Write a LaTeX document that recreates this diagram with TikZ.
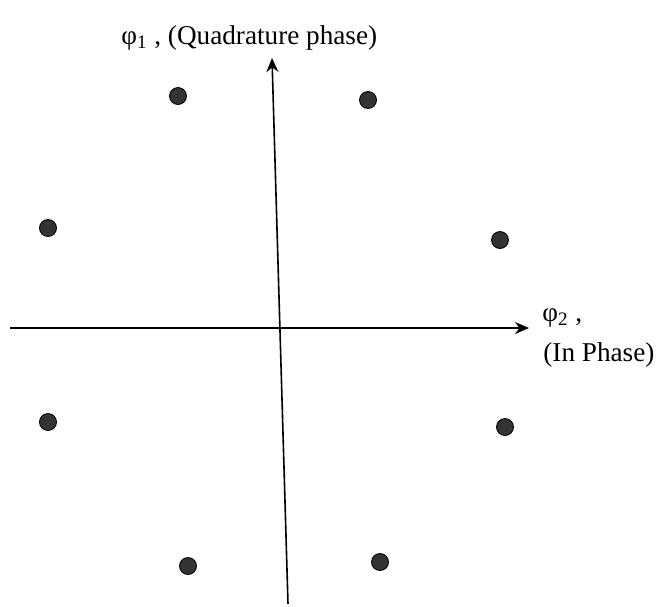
\documentclass[tikz,border=0pt]{standalone}
\usepackage{fontspec}
\setmainfont{Liberation Serif}
\usetikzlibrary{arrows.meta}

\tikzset{
  sym/.style={circle,fill=black!80,draw=black,inner sep=0pt,minimum size=8.5pt},
  lbl/.style={inner sep=0pt,font=\fontsize{13.6}{16}\selectfont}
}

\begin{document}
\begin{tikzpicture}[x=0.5pt,y=-0.5pt]
\useasboundingbox (0,0) rectangle (659,606);
% axes
\coordinate (ybot) at (288,604);
\coordinate (ytop) at (272,58);
\coordinate (xleft) at (10,328);
\coordinate (xright) at (529,328);
\draw[line width=0.8pt,-{Stealth[length=7pt,width=6pt]}] (ybot)--(ytop);
\draw[line width=0.8pt,-{Stealth[length=7pt,width=6pt]}] (xleft)--(xright);
% signal points
\node[sym] (s1) at (178,96) {};
\node[sym] (s2) at (368,100) {};
\node[sym] (s3) at (48,228) {};
\node[sym] (s4) at (500,240) {};
\node[sym] (s5) at (48,422) {};
\node[sym] (s6) at (505,427) {};
\node[sym] (s7) at (188,566) {};
\node[sym] (s8) at (380,562) {};
% labels
\node[lbl,anchor=west] (qlab) at (121,38) {φ\textsubscript{1} , (Quadrature phase)};
\node[lbl,anchor=west] (plab) at (542,318) {φ\textsubscript{2} ,};
\node[lbl,anchor=west] (ilab) at (543,355) {(In Phase)};
\end{tikzpicture}
\end{document}
